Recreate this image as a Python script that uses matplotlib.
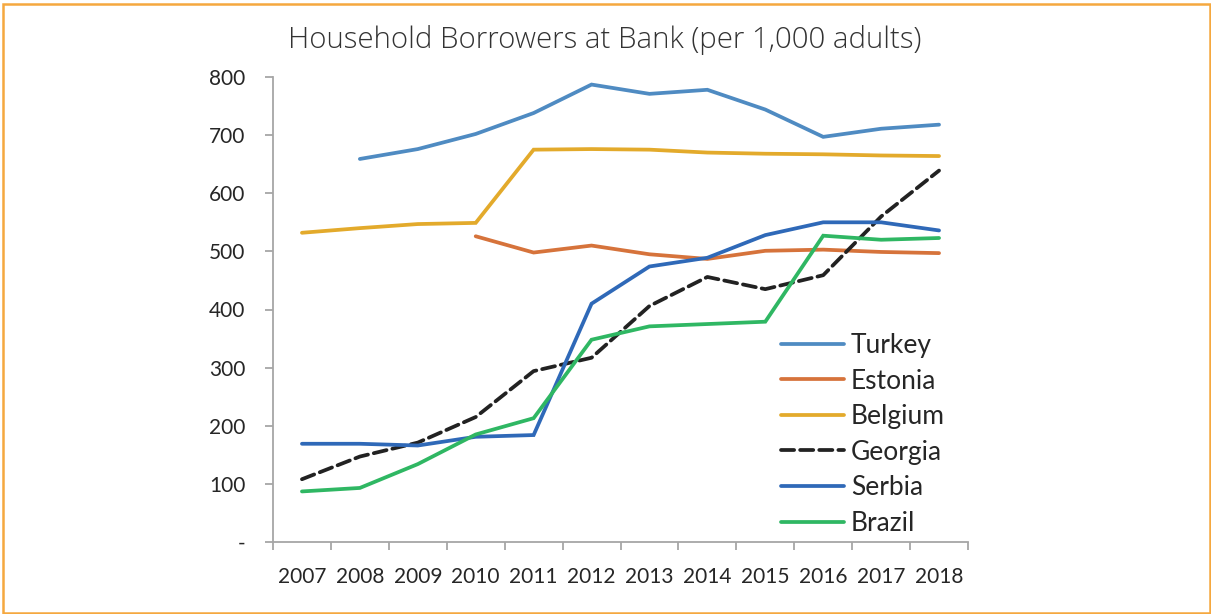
import numpy as np
import matplotlib
matplotlib.use("Agg")
import matplotlib.pyplot as plt
from matplotlib.patches import Rectangle

years = [str(y) for y in range(2007, 2019)]
nan = np.nan
turkey = [nan, 659, 676, 702, 738, 787, 771, 778, 744, 697, 711, 718]
estonia = [nan, nan, nan, 526, 498, 510, 495, 487, 501, 503, 499, 497]
belgium = [532, 540, 547, 549, 675, 676, 675, 670, 668, 667, 665, 664]
georgia = [108, 147, 171, 215, 294, 317, 406, 456, 435, 459, 560, 639]
serbia = [169, 169, 166, 181, 184, 410, 474, 489, 528, 550, 550, 536]
brazil = [87, 93, 134, 185, 213, 348, 371, 375, 379, 527, 520, 523]

y_ticks = [0, 100, 200, 300, 400, 500, 600, 700, 800]
y_labels = ["-", "100", "200", "300", "400", "500", "600", "700", "800"]

W, H = 1211, 614
fig = plt.figure(figsize=(W / 100, H / 100), dpi=100)
ax = fig.add_axes([273 / W, 1 - 542 / H, (968 - 273) / W, (542 - 77) / H])

x = np.arange(len(years))
lw = 2.7
series = [
    ("Turkey", turkey, "#4f8bc2", "-"),
    ("Estonia", estonia, "#d6733b", "-"),
    ("Belgium", belgium, "#e3aa2b", "-"),
    ("Georgia", georgia, "#222222", "--"),
    ("Serbia", serbia, "#2f69b8", "-"),
    ("Brazil", brazil, "#2fb763", "-"),
]
for name, vals, col, ls in series:
    kw = dict(color=col, lw=lw, label=name, solid_capstyle="round",
              solid_joinstyle="miter")
    if ls == "--":
        kw.update(linestyle=(0, (3.5, 1.6)), dash_capstyle="round")
    ax.plot(x, vals, **kw)

ax.set_xlim(-0.5, len(years) - 0.5)
ax.set_ylim(0, 800)
axis_col = "#a6a6a6"
for s in ["top", "right"]:
    ax.spines[s].set_visible(False)
for s in ["left", "bottom"]:
    ax.spines[s].set_color(axis_col)
    ax.spines[s].set_linewidth(1.3)

ax.set_yticks(y_ticks)
ax.set_yticklabels(y_labels)
ax.set_xticks(x)
ax.set_xticklabels(years)
ax.set_xticks(np.arange(-0.5, len(years)), minor=True)
ax.tick_params(axis="x", which="major", length=0, pad=18)
ax.tick_params(axis="x", which="minor", length=6, width=1.3, color=axis_col)
ax.tick_params(axis="y", length=6, width=1.3, color=axis_col, pad=14)
for lab in ax.get_xticklabels() + ax.get_yticklabels():
    lab.set_fontfamily("Lato")
    lab.set_fontsize(15)
    lab.set_color("#262626")

fig.text(605 / W, 1 - 40 / H, "Household Borrowers at Bank (per 1,000 adults)",
         ha="center", va="center", fontsize=21.2, family="Open Sans",
         fontweight="light", color="#333333")

leg = ax.legend(loc="upper left", bbox_to_anchor=(781 / W, 1 - 333 / H),
                bbox_transform=fig.transFigure, frameon=False,
                prop={"family": "Lato", "size": 19},
                handlelength=2.4, handletextpad=0.25, labelspacing=0.40,
                borderpad=0, borderaxespad=0)
for t in leg.get_texts():
    t.set_color("#262626")

fig.add_artist(Rectangle((3 / W, 1 - 613 / H), (1210 - 3) / W, (613 - 4) / H,
                         transform=fig.transFigure, fill=False,
                         edgecolor="#f5a83f", lw=1.8))

fig.savefig("out.png", dpi=100)
